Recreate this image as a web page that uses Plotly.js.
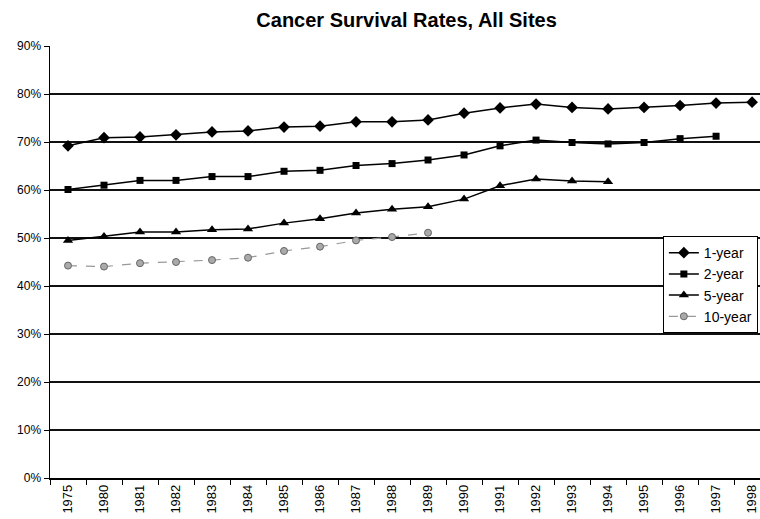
<!DOCTYPE html>
<html>
<head>
<meta charset="utf-8">
<script src="https://cdn.plot.ly/plotly-3.0.1.min.js"></script>
<style>
html,body{margin:0;padding:0;overflow:hidden;background:#fff;}
#chart{width:760px;height:519px;}
</style>
</head>
<body>
<div id="chart"></div>
<script>
const years = ["1975","1980","1981","1982","1983","1984","1985","1986","1987","1988","1989","1990","1991","1992","1993","1994","1995","1996","1997","1998"];
const oneYear = [69.2,70.9,71.05,71.5,72.1,72.3,73.1,73.3,74.2,74.2,74.6,76.0,77.1,77.9,77.2,76.9,77.2,77.6,78.1,78.3];
const twoYear = [60.1,61.0,62.0,62.0,62.8,62.8,63.9,64.1,65.1,65.5,66.25,67.3,69.2,70.4,69.9,69.6,69.9,70.7,71.2,null];
const fiveYear = [49.5,50.3,51.25,51.25,51.7,51.9,53.1,54.0,55.2,56.0,56.5,58.1,60.9,62.3,61.9,61.7,null,null,null,null];
const tenYear = [44.25,44.05,44.75,45.0,45.4,45.9,47.3,48.2,49.5,50.2,51.1,null,null,null,null,null,null,null,null,null];
const seriesNames = ["1-year","2-year","5-year","10-year"];

const FONT = "Arial, 'Liberation Sans', sans-serif";

const traces = [
  {x: years, y: oneYear, name: seriesNames[0], type: 'scatter', mode: 'lines+markers',
   line: {color: '#000', width: 1.5}, marker: {symbol: 'diamond', size: 9, color: '#000'}},
  {x: years, y: twoYear, name: seriesNames[1], type: 'scatter', mode: 'lines+markers',
   line: {color: '#000', width: 1.5}, marker: {symbol: 'square', size: 7, color: '#000'}},
  {x: years, y: fiveYear, name: seriesNames[2], type: 'scatter', mode: 'lines+markers',
   line: {color: '#000', width: 1.5}, marker: {symbol: 'triangle-up', size: 9, color: '#000'}},
  {x: years, y: tenYear, name: seriesNames[3], type: 'scatter', mode: 'lines+markers',
   line: {color: '#999', width: 1.2, dash: 'dash'}, marker: {symbol: 'circle', size: 7, color: '#aaa', line: {color: '#666', width: 1}}}
];

const layout = {
  width: 760, height: 519,
  margin: {l: 50, r: 0, t: 46, b: 41, pad: 0},
  paper_bgcolor: '#fff', plot_bgcolor: '#fff',
  title: {text: '<b>Cancer Survival Rates, All Sites</b>', font: {family: FONT, size: 20, color: '#000'},
          x: 0.535, xanchor: 'center', y: 0.975, yanchor: 'top'},
  showlegend: true,
  legend: {x: 0.997, xanchor: 'right', y: 0.56, yanchor: 'top',
           bgcolor: '#fff', bordercolor: '#000', borderwidth: 1,
           font: {family: FONT, size: 14, color: '#000'}, tracegroupgap: 0},
  xaxis: {type: 'category', range: [-0.5, 19.22], showgrid: false, zeroline: false,
          showline: true, linecolor: '#000', linewidth: 1.5,
          ticks: 'outside', tickson: 'boundaries', ticklen: 5, tickcolor: '#000',
          tickangle: -90, tickfont: {family: FONT, size: 13, color: '#000'}, fixedrange: true},
  yaxis: {range: [0, 90], dtick: 10, ticksuffix: '%', showgrid: true, gridcolor: '#111', gridwidth: 1.5,
          zeroline: false, showline: true, linecolor: '#000', linewidth: 1.5,
          ticks: 'outside', ticklen: 5, tickcolor: '#000',
          tickfont: {family: FONT, size: 12, color: '#000'}, fixedrange: true}
};

Plotly.newPlot('chart', traces, layout, {displayModeBar: false, staticPlot: true});
</script>
</body>
</html>
